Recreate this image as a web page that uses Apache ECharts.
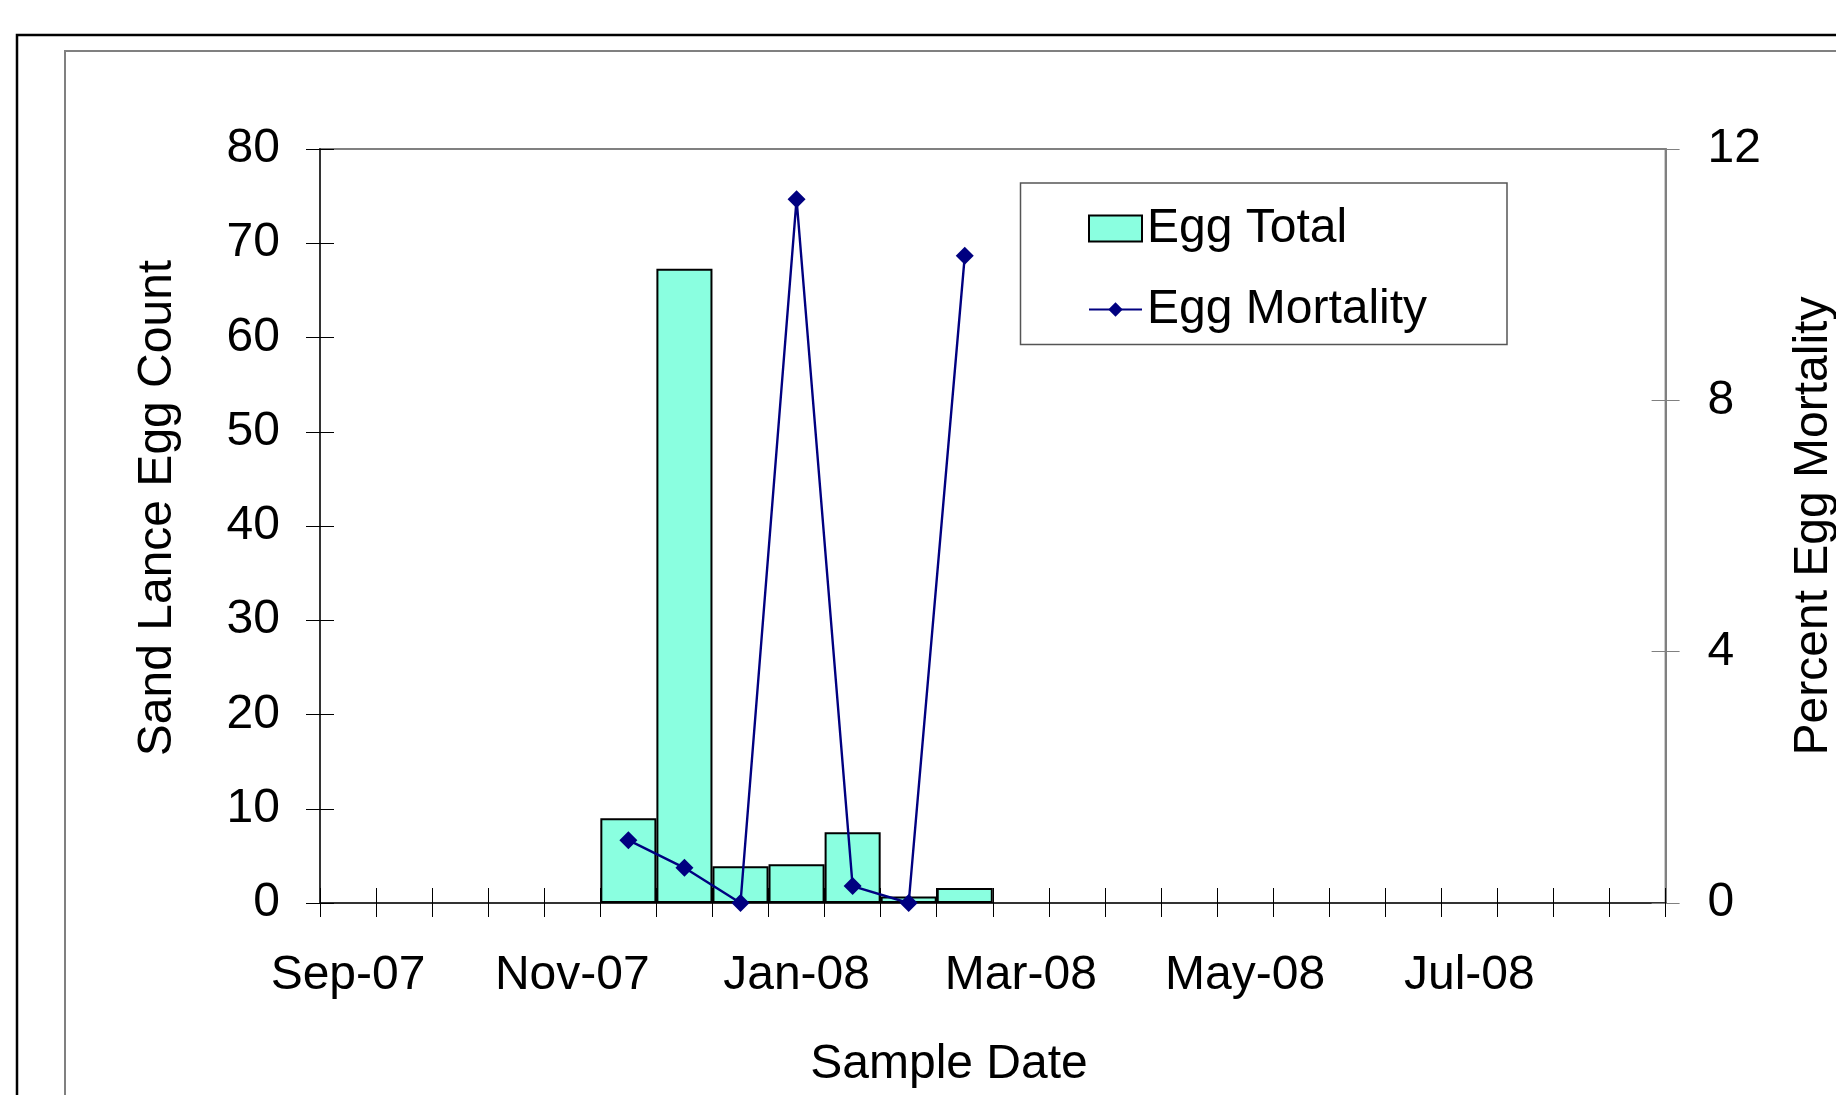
<!DOCTYPE html>
<html><head><meta charset="utf-8">
<script src="https://cdn.jsdelivr.net/npm/echarts@6/dist/echarts.min.js"></script>
<style>html,body{margin:0;padding:0;background:#fff}#c{width:1836px;height:1095px}</style>
</head><body><div id="c"></div>
<script>
// Semi-monthly sample periods (category axis)
const categories = ['2007-09-01','2007-09-16','2007-10-01','2007-10-16','2007-11-01','2007-11-16',
  '2007-12-01','2007-12-16','2008-01-01','2008-01-16','2008-02-01','2008-02-16',
  '2008-03-01','2008-03-16','2008-04-01','2008-04-16','2008-05-01','2008-05-16',
  '2008-06-01','2008-06-16','2008-07-01','2008-07-16','2008-08-01','2008-08-16'];
const tickLabels = ['Sep-07','Nov-07','Jan-08','Mar-08','May-08','Jul-08'];
const eggTotal = [null,null,null,null,null,9.0,67.3,3.9,4.1,7.5,0.7,1.6,
  null,null,null,null,null,null,null,null,null,null,null,null];
const eggMortality = [null,null,null,null,null,1.0,0.56,0,11.2,0.27,0,10.3,
  null,null,null,null,null,null,null,null,null,null,null,null];
const countAxis = {min:0, max:80, interval:10};
const mortalityAxis = {min:0, max:12, interval:4};

const FONT = "'Liberation Sans', Arial, sans-serif";
const chart = echarts.init(document.getElementById('c'), null, {renderer:'canvas'});

const hidden = {show:false};
const option = {
  animation:false,
  backgroundColor:'#ffffff',
  textStyle:{fontFamily:FONT},
  grid:{left:320, top:149, right:170.4, bottom:192, containLabel:false, outerBoundsMode:'none',
        show:true, borderColor:'#808080', borderWidth:2, backgroundColor:'transparent'},
  xAxis:[
    {type:'category', data:categories, boundaryGap:true, position:'bottom',
     axisLine:{show:true, onZero:false, lineStyle:{color:'#333', width:2}},
     axisTick:{show:true, interval:0, length:14, lineStyle:{color:'#000', width:1}},
     axisLabel:{interval:3, margin:49, fontSize:48, color:'#000', fontFamily:FONT,
       formatter:(v, i) => tickLabels[Math.round(i/4)] || ''},
     splitLine:hidden},
    {type:'category', data:categories, boundaryGap:true, position:'bottom',
     axisLine:{show:false, onZero:false},
     axisTick:{show:true, inside:true, interval:0, length:15, lineStyle:{color:'#000', width:1}},
     axisLabel:hidden, splitLine:hidden}
  ],
  yAxis:[
    {type:'value', position:'left', min:countAxis.min, max:countAxis.max, interval:countAxis.interval,
     axisLine:{show:true, lineStyle:{color:'#333', width:2}},
     axisTick:{show:true, length:14, lineStyle:{color:'#000', width:1}},
     axisLabel:{margin:40, fontSize:48, color:'#000', fontFamily:FONT, padding:[9,0,0,0]},
     splitLine:hidden},
    {type:'value', position:'right', min:mortalityAxis.min, max:mortalityAxis.max, interval:mortalityAxis.interval,
     axisLine:{show:true, lineStyle:{color:'#808080', width:2}},
     axisTick:{show:true, length:14, lineStyle:{color:'#808080', width:1}},
     axisLabel:{margin:42, fontSize:48, color:'#000', fontFamily:FONT, padding:[9,0,0,0]},
     splitLine:hidden},
    {type:'value', position:'left', min:countAxis.min, max:countAxis.max, interval:countAxis.interval,
     axisLine:{show:false},
     axisTick:{show:true, inside:true, length:14, lineStyle:{color:'#000', width:1}},
     axisLabel:hidden, splitLine:hidden},
    {type:'value', position:'right', min:mortalityAxis.min, max:mortalityAxis.max, interval:mortalityAxis.interval,
     axisLine:{show:false},
     axisTick:{show:true, inside:true, length:14, lineStyle:{color:'#808080', width:1}},
     axisLabel:hidden, splitLine:hidden}
  ],
  legend:[
    {data:[{name:'Egg Total', icon:'rect'}], orient:'vertical', left:1088, top:204.5, padding:0,
     itemWidth:53, itemHeight:26, selectedMode:false,
     itemStyle:{borderColor:'#000', borderWidth:2},
     textStyle:{fontSize:48, lineHeight:46, color:'#000', fontFamily:FONT}},
    {data:['Egg Mortality'], orient:'vertical', left:1088, top:285.5, padding:0,
     itemWidth:53, itemHeight:18, selectedMode:false,
     textStyle:{fontSize:48, lineHeight:46, color:'#000', fontFamily:FONT}}
  ],
  graphic:[
    {type:'rect', silent:true, z:-10, shape:{x:17, y:35, width:1900, height:1200},
     style:{fill:'none', stroke:'#000', lineWidth:2.5}},
    {type:'rect', silent:true, z:-10, shape:{x:65, y:51, width:1900, height:1200},
     style:{fill:'none', stroke:'#808080', lineWidth:2}},
    {type:'rect', silent:true, z:-5, shape:{x:1020.5, y:183, width:486.5, height:161.5},
     style:{fill:'none', stroke:'#555', lineWidth:1.5}},
    {type:'text', silent:true, x:949, y:1065,
     style:{text:'Sample Date', fontSize:48, fontFamily:FONT, fill:'#000', align:'center', verticalAlign:'middle'}},
    {type:'text', silent:true, x:158, y:508, rotation:Math.PI/2,
     style:{text:'Sand Lance Egg Count', fontSize:48, fontFamily:FONT, fill:'#000', align:'center', verticalAlign:'middle'}},
    {type:'text', silent:true, x:1814, y:526, rotation:Math.PI/2,
     style:{text:'Percent Egg Mortality', fontSize:48, fontFamily:FONT, fill:'#000', align:'center', verticalAlign:'middle'}}
  ],
  series:[
    {name:'Egg Total', type:'bar', xAxisIndex:0, yAxisIndex:0, data:eggTotal,
     barCategoryGap:'0%', barGap:'0%',
     itemStyle:{color:'#8AFFE0', borderColor:'#000', borderWidth:2},
     emphasis:{disabled:true}},
    {name:'Egg Mortality', type:'line', xAxisIndex:0, yAxisIndex:1, data:eggMortality,
     symbol:'diamond', symbolSize:18, showAllSymbol:true, z:3,
     lineStyle:{color:'#000080', width:2.4}, itemStyle:{color:'#000080'},
     emphasis:{disabled:true}}
  ]
};
chart.setOption(option);
</script></body></html>
